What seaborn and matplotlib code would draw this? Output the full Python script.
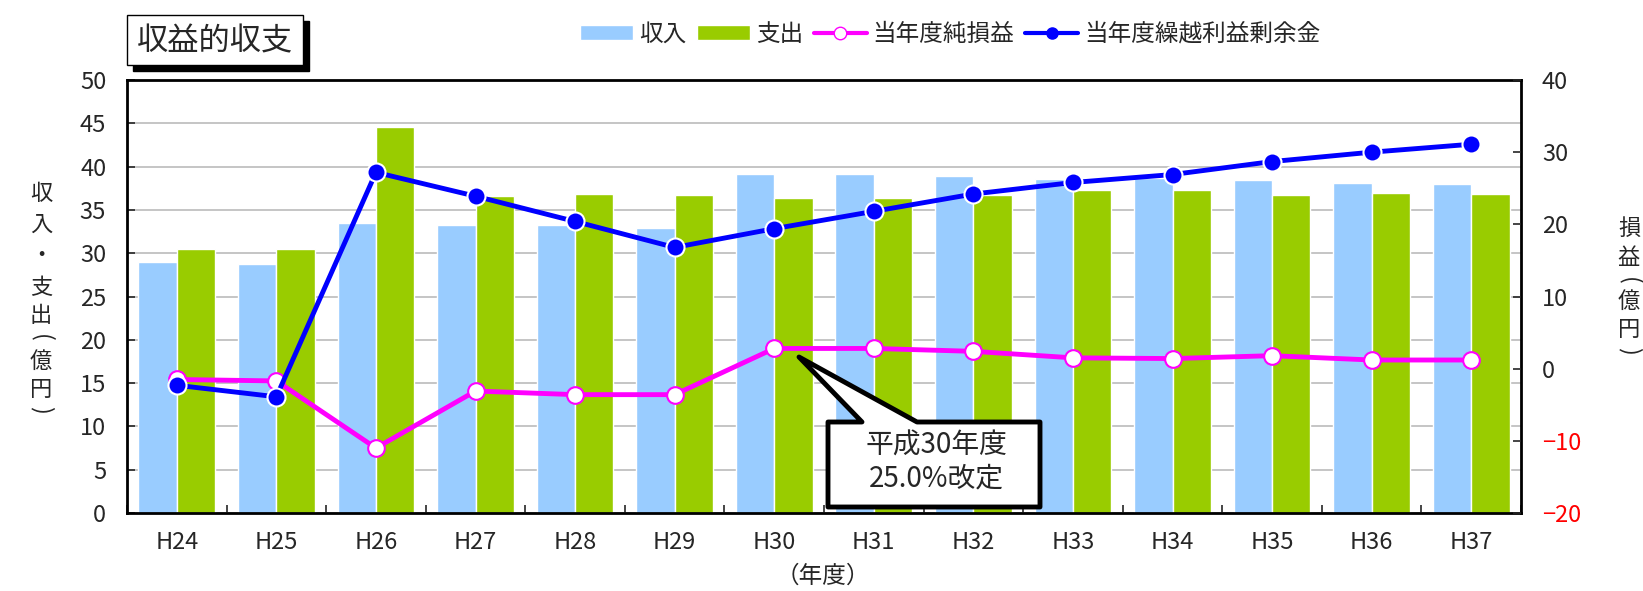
import numpy as np
import pandas as pd
import matplotlib
matplotlib.use("Agg")
import matplotlib.pyplot as plt
import seaborn as sns
from matplotlib.patches import Patch, Rectangle, Polygon
from matplotlib.lines import Line2D

# data
years = ["H24", "H25", "H26", "H27", "H28", "H29", "H30",
         "H31", "H32", "H33", "H34", "H35", "H36", "H37"]
income = [29.0, 28.7, 33.5, 33.3, 33.2, 32.9, 39.1,
          39.1, 38.9, 38.6, 38.7, 38.4, 38.1, 38.0]
expense = [30.5, 30.5, 44.6, 36.6, 36.8, 36.7, 36.4,
           36.4, 36.7, 37.3, 37.3, 36.7, 37.0, 36.8]
net_profit = [-1.5, -1.7, -11.0, -3.1, -3.6, -3.6, 2.8,
              2.8, 2.4, 1.5, 1.4, 1.8, 1.2, 1.2]
surplus = [-2.3, -3.9, 27.2, 23.9, 20.4, 16.8, 19.4,
           21.8, 24.2, 25.8, 26.9, 28.7, 30.0, 31.1]

C_IN = "#99CCFF"
C_OUT = "#99CC00"
C_NET = "#FF00FF"
C_SUR = "#0000FF"

sns.set_style("white")
plt.rcParams['font.family'] = ['Noto Sans CJK JP', 'DejaVu Sans']

W, H = 1643, 591
fig = plt.figure(figsize=(W / 100, H / 100), dpi=100)


def fx(x, y):
    # pixel (from top-left) -> figure fraction
    return x / W, 1 - y / H


ax = fig.add_axes([127 / W, 1 - 513 / H, (1521 - 127) / W, (513 - 80) / H])

df = pd.DataFrame({
    "year": years * 2,
    "value": income + expense,
    "kind": ["収入"] * len(years) + ["支出"] * len(years),
})
sns.barplot(data=df, x="year", y="value", hue="kind",
            palette={"収入": C_IN, "支出": C_OUT}, saturation=1,
            width=0.77, gap=0, ax=ax, legend=False, zorder=2)

ax.set_ylim(0, 50)
ax.set_yticks(np.arange(0, 51, 5))
ax.set_axisbelow(True)
ax.yaxis.grid(True, color="#BBBBBB", lw=1.2, zorder=0)
ax.set_xlabel("")
ax.set_ylabel("")
ax.tick_params(axis="y", direction="in", length=6, width=1.2, labelsize=17,
               left=True, pad=15)
ax.tick_params(axis="x", which="major", length=0, labelsize=17, pad=13)
ax.set_xticks(np.arange(len(years) + 1) - 0.5, minor=True)
ax.tick_params(axis="x", which="minor", direction="in", length=6, width=1.2,
               bottom=True)
for s in ax.spines.values():
    s.set_linewidth(2)
    s.set_color("black")

ax2 = ax.twinx()
x = np.arange(len(years))
sns.lineplot(x=x, y=net_profit, ax=ax2, color=C_NET, lw=3.5, marker="o",
             markersize=12, markerfacecolor="white", markeredgecolor=C_NET,
             markeredgewidth=1.5, zorder=3)
sns.lineplot(x=x, y=surplus, ax=ax2, color=C_SUR, lw=3.5, marker="o",
             markersize=13, markerfacecolor=C_SUR, markeredgecolor="white",
             markeredgewidth=1.5, zorder=4)
ax2.set_ylim(-20, 40)
ax2.set_yticks(np.arange(-20, 41, 10))
ax2.set_xlim(-0.5, len(years) - 0.5)
ax2.tick_params(axis="y", direction="in", length=6, width=1.2, labelsize=17,
                right=True, pad=15)
for lab in ax2.get_yticklabels():
    if lab.get_text().startswith(("−", "-")):
        lab.set_color("red")
for s in ax2.spines.values():
    s.set_visible(False)
ax2.set_ylabel("")


def vlabel(chars, rows, xpos):
    # stacked vertical label; parentheses turned to their vertical shape
    for ch, yy in zip(chars, rows):
        if ch in "()":
            fig.text(*fx(xpos, yy), ch, ha="center", va="center", fontsize=17,
                     rotation=-90)
        else:
            fig.text(*fx(xpos, yy), ch, ha="center", va="center", fontsize=16)


vlabel(list("収入・支出(億円)"), [193, 224, 255, 287, 316, 338, 361, 390, 410], 41)
vlabel(list("損益(億円)"), [228, 257, 281, 301, 330, 351], 1629)
fig.text(*fx(823, 576), "（年度）", ha="center", va="center", fontsize=17)

# title box with shadow
fig.patches.append(Rectangle(fx(133, 71), 176 / W, 50 / H, transform=fig.transFigure,
                             facecolor="black", edgecolor="black", zorder=5))
fig.patches.append(Rectangle(fx(127, 65), 176 / W, 50 / H, transform=fig.transFigure,
                             facecolor="white", edgecolor="black", lw=1, zorder=6))
fig.text(*fx(215, 41), "収益的収支", ha="center", va="center", fontsize=22.5,
         zorder=7)

# callout
pts = [(799, 357), (917, 422), (1040, 422), (1040, 507), (828, 507),
       (828, 422), (862, 422)]
fig.patches.append(Polygon([fx(*p) for p in pts], closed=True,
                           transform=fig.transFigure, facecolor="white",
                           edgecolor="black", lw=3.5, joinstyle="round", zorder=8))
fig.text(*fx(936, 462), "平成30年度\n25.0%改定", ha="center", va="center",
         fontsize=20, linespacing=1.1, zorder=9)

# legend
handles = [
    Patch(facecolor=C_IN, label="収入"),
    Patch(facecolor=C_OUT, label="支出"),
    Line2D([], [], color=C_NET, lw=3, marker="o", markersize=9,
           markerfacecolor="white", markeredgecolor=C_NET, label="当年度純損益"),
    Line2D([], [], color=C_SUR, lw=3, marker="o", markersize=8,
           markerfacecolor=C_SUR, markeredgecolor=C_SUR, label="当年度繰越利益剰余金"),
]
fig.legend(handles=handles, loc="center", bbox_to_anchor=fx(950, 34), ncol=4,
           frameon=False, fontsize=17, handlelength=2.25, handleheight=0.6,
           columnspacing=0.45, handletextpad=0.25)

fig.savefig("out.png", dpi=100)
